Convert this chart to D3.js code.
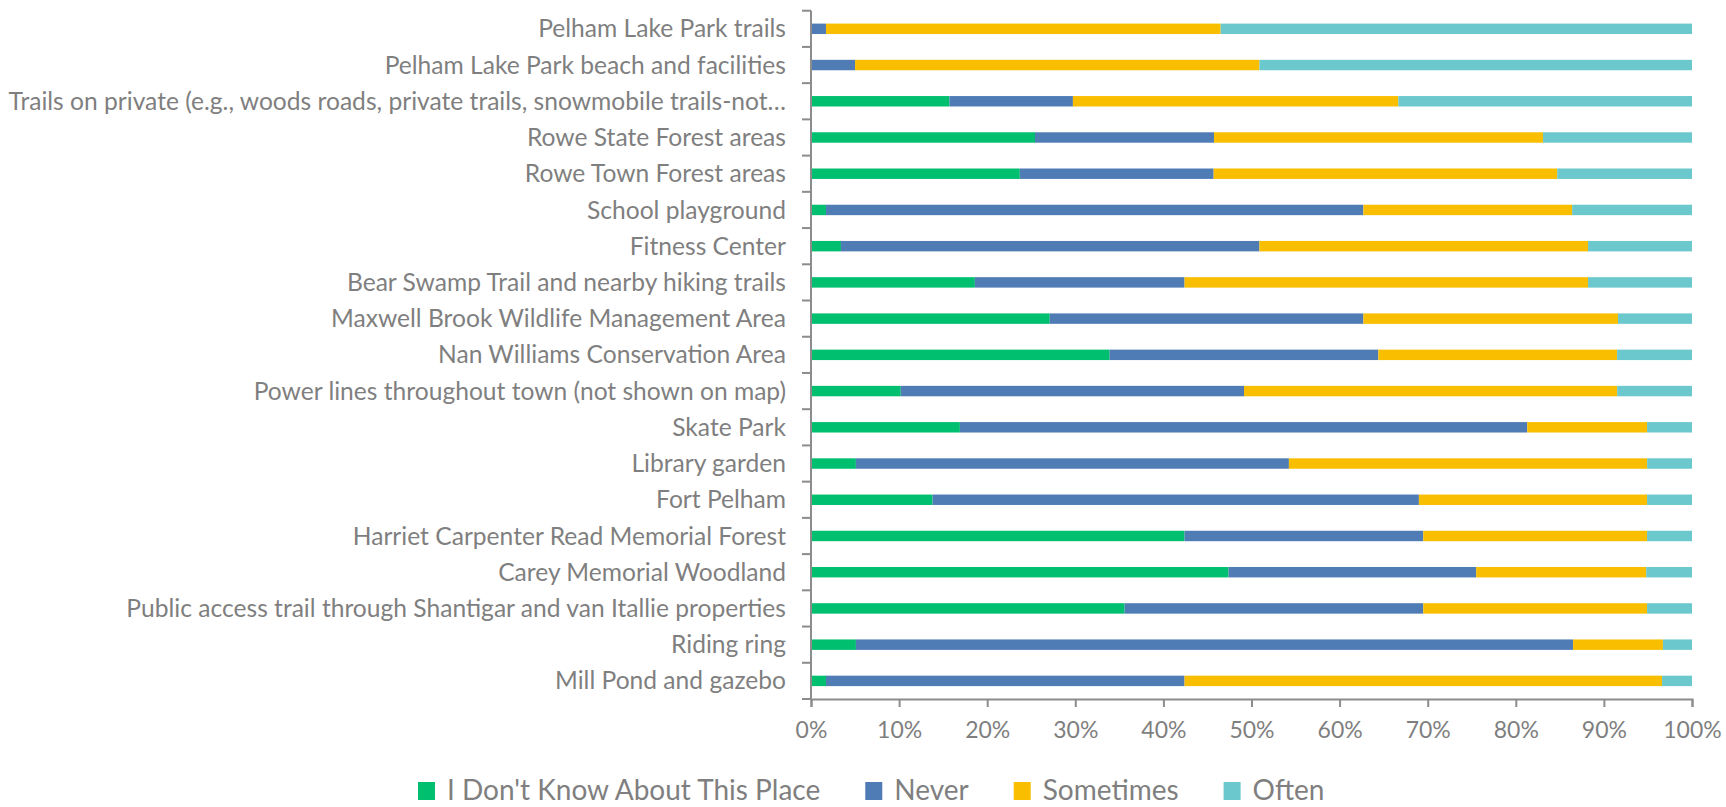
<!DOCTYPE html>
<html>
<head>
<meta charset="utf-8">
<script src="https://cdn.jsdelivr.net/npm/d3@7"></script>
<style>
  html, body { margin: 0; padding: 0; background: #ffffff; }
  svg { display: block; }
  text { font-family: Lato, "Open Sans", sans-serif; }
</style>
</head>
<body>
<svg id="chart" width="1726" height="807"></svg>
<script>
// ---- Data (values in %) ----
const categories = [
  "Pelham Lake Park trails",
  "Pelham Lake Park beach and facilities",
  "Trails on private (e.g., woods roads, private trails, snowmobile trails-not…",
  "Rowe State Forest areas",
  "Rowe Town Forest areas",
  "School playground",
  "Fitness Center",
  "Bear Swamp Trail and nearby hiking trails",
  "Maxwell Brook Wildlife Management Area",
  "Nan Williams Conservation Area",
  "Power lines throughout town (not shown on map)",
  "Skate Park",
  "Library garden",
  "Fort Pelham",
  "Harriet Carpenter Read Memorial Forest",
  "Carey Memorial Woodland",
  "Public access trail through Shantigar and van Itallie properties",
  "Riding ring",
  "Mill Pond and gazebo"
];
const seriesNames = ["I Don't Know About This Place", "Never", "Sometimes", "Often"];
const dontKnow  = [0,   0,   15.7, 25.4, 23.7, 1.7,  3.4,  18.6, 27.1, 33.9, 10.2, 16.9, 5.1,  13.8, 42.4, 47.4, 35.6, 5.1,  1.7];
const never     = [1.7, 5.0, 14.0, 20.3, 22.0, 61.0, 47.5, 23.8, 35.6, 30.5, 39.0, 64.4, 49.2, 55.2, 27.1, 28.1, 33.9, 81.4, 40.7];
const sometimes = [44.8,45.9,36.9, 37.3, 39.0, 23.7, 37.3, 45.8, 28.9, 27.1, 42.4, 13.6, 40.7, 25.9, 25.4, 19.3, 25.4, 10.2, 54.2];
const often     = [53.5,49.1,33.3, 16.9, 15.3, 13.6, 11.8, 11.8, 8.4,  8.5,  8.5,  5.1,  5.1,  5.1,  5.1,  5.2,  5.1,  3.3,  3.4];
const xTickValues = [0, 0.1, 0.2, 0.3, 0.4, 0.5, 0.6, 0.7, 0.8, 0.9, 1.0];
const colors = ["#00BF6F", "#507CB6", "#F9BE00", "#6BC8CD"];

// ---- Build table ----
const seriesArrays = [dontKnow, never, sometimes, often];
const table = categories.map((c, i) => {
  const row = { category: c };
  const total = seriesArrays.reduce((s, a) => s + a[i], 0);
  seriesNames.forEach((n, k) => { row[n] = seriesArrays[k][i] / total; });
  return row;
});
const stacked = d3.stack().keys(seriesNames)(table);

// ---- Layout ----
const svg = d3.select("#chart");
const plot = { left: 811, right: 1692, top: 10.7, bottom: 699 };
const textColor = "#7F7F7F";
const axisColor = "#8C8C8C";

const x = d3.scaleLinear().domain([0, 1]).range([plot.left, plot.right]);
const y = d3.scaleBand().domain(categories).range([plot.top, plot.bottom])
  .paddingInner(0.712).paddingOuter(0.356);

const color = d3.scaleOrdinal().domain(seriesNames).range(colors);

// Bars
svg.append("g").selectAll("g").data(stacked).join("g")
  .attr("fill", d => color(d.key))
  .selectAll("rect").data(d => d).join("rect")
  .attr("x", d => x(d[0]))
  .attr("y", d => y(d.data.category))
  .attr("width", d => Math.max(0, x(d[1]) - x(d[0])))
  .attr("height", y.bandwidth());

// Left axis: line + tick marks at band boundaries
const leftAxis = svg.append("g");
leftAxis.append("line")
  .attr("x1", plot.left).attr("x2", plot.left)
  .attr("y1", plot.top).attr("y2", plot.bottom)
  .attr("stroke", axisColor).attr("stroke-width", 2);
leftAxis.selectAll("line.tick").data(d3.range(categories.length + 1)).join("line")
  .attr("class", "tick")
  .attr("x1", plot.left - 9).attr("x2", plot.left)
  .attr("y1", i => plot.top + (plot.bottom - plot.top) * i / categories.length)
  .attr("y2", i => plot.top + (plot.bottom - plot.top) * i / categories.length)
  .attr("stroke", axisColor).attr("stroke-width", 2);

// Category labels
svg.append("g").selectAll("text").data(categories).join("text")
  .attr("x", plot.left - 25)
  .attr("y", d => y(d) + y.bandwidth() / 2)
  .attr("dy", "0.35em")
  .attr("text-anchor", "end")
  .attr("fill", textColor)
  .style("font-size", "24.6px")
  .text(d => d);

// Bottom axis
const xAxis = d3.axisBottom(x).tickValues(xTickValues)
  .tickFormat(d3.format(".0%")).tickSize(8).tickPadding(15);
const gx = svg.append("g").attr("transform", `translate(0,${plot.bottom})`).call(xAxis);
gx.select(".domain").attr("stroke", axisColor).attr("stroke-width", 2);
gx.selectAll(".tick line").attr("stroke", axisColor).attr("stroke-width", 2);
gx.selectAll(".tick text").attr("fill", textColor)
  .style("font-size", "23px").style("font-family", "Lato, 'Open Sans', sans-serif");

// Legend
const legend = svg.append("g").attr("transform", "translate(0,790)");
let lx = 418;
seriesNames.forEach((name, k) => {
  legend.append("rect").attr("x", lx).attr("y", -8).attr("width", 17).attr("height", 18)
    .attr("fill", color(name));
  const t = legend.append("text").attr("x", lx + 29).attr("y", 0).attr("dy", "0.34em")
    .attr("fill", textColor).style("font-size", "28px").text(name);
  const w = t.node().getComputedTextLength();
  lx += 29 + w + 45;
});
</script>
</body>
</html>
